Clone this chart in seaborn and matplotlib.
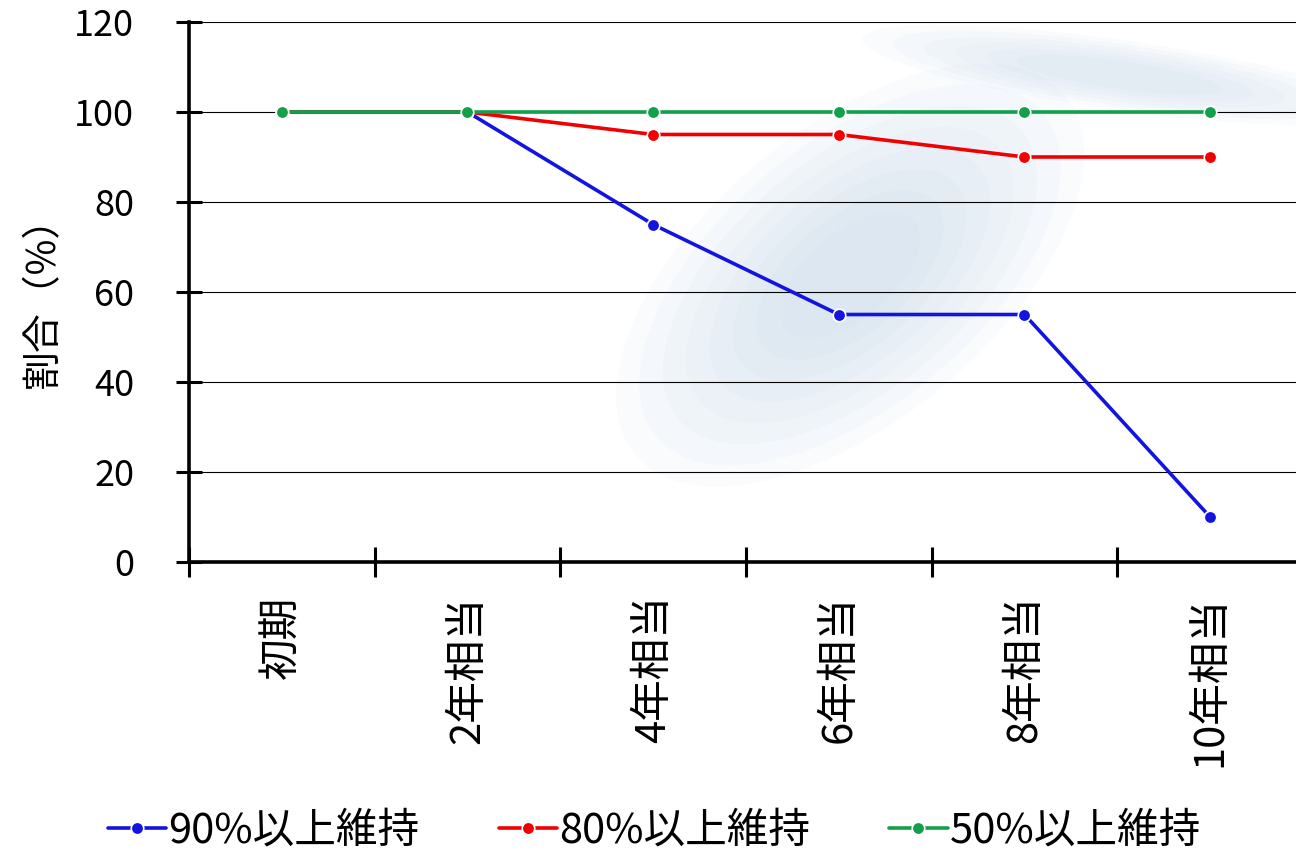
import pandas as pd
import matplotlib
matplotlib.use('Agg')
import matplotlib.pyplot as plt
from matplotlib.patches import Ellipse
import seaborn as sns

# データ
categories = ['初期', '2年相当', '4年相当', '6年相当', '8年相当', '10年相当']
series_names = ['90%以上維持', '80%以上維持', '50%以上維持']
keep_90 = [100, 100, 75, 55, 55, 10]
keep_80 = [100, 100, 95, 95, 90, 90]
keep_50 = [100, 100, 100, 100, 100, 100]
colors = ['#1414E0', '#F00000', '#12A04A']
y_ticks = [0, 20, 40, 60, 80, 100, 120]

sns.set_theme(style='white')
plt.rcParams['font.family'] = ['Noto Sans CJK JP', 'DejaVu Sans']
plt.rcParams['text.color'] = 'black'
plt.rcParams['xtick.color'] = 'black'
plt.rcParams['ytick.color'] = 'black'
plt.rcParams['axes.labelcolor'] = 'black'

df = pd.DataFrame({
    'cat': categories * 3,
    'val': keep_90 + keep_80 + keep_50,
    'series': [s for s in series_names for _ in categories],
})

fig = plt.figure(figsize=(12.96, 8.59), dpi=100)
ax = fig.add_axes([0.1458, 0.3457, 0.8596, 0.6287])
ax.set_facecolor('none')

# 背景の透かし（装飾）
deco = fig.add_axes([0, 0, 1, 1], zorder=-1)
deco.set_xlim(0, 1296)
deco.set_ylim(859, 0)
deco.axis('off')
for k in range(8):
    s = 1 - k * 0.1
    deco.add_patch(Ellipse((850, 275), 560 * s, 290 * s, angle=-40, facecolor='#b8d0e6',
                           edgecolor='none', alpha=0.07))
for k in range(6):
    s = 1 - k * 0.12
    deco.add_patch(Ellipse((1120, 75), 520 * s, 70 * s, angle=8, facecolor='#b8d0e6',
                           edgecolor='none', alpha=0.07))

sns.lineplot(data=df, x='cat', y='val', hue='series', palette=colors,
             marker='o', markersize=9, linewidth=2.6, markeredgewidth=1.2,
             sort=False, ax=ax, legend=True, zorder=3)

ax.set_ylim(0, 120)
ax.set_xlim(-0.5, 5.5)
ax.set_yticks(y_ticks)
ax.set_yticklabels([str(v) for v in y_ticks], fontsize=26)
ax.grid(axis='y', color='black', linewidth=0.8)
ax.grid(axis='x', visible=False)

# 目盛り：区切り位置にマーク、ラベルは中央
ax.set_xticks([i - 0.5 for i in range(len(categories) + 1)])
ax.set_xticklabels([])
ax.set_xticks(range(len(categories)), minor=True)
ax.set_xticklabels(categories, minor=True, rotation=90, fontsize=30)
ax.tick_params(axis='x', which='major', bottom=True, direction='inout', length=21, width=2.2)
ax.tick_params(axis='x', which='minor', bottom=True, length=0, pad=24)
ax.tick_params(axis='y', left=True, direction='inout', length=19, width=2.2, pad=30)

for side in ['top', 'right']:
    ax.spines[side].set_visible(False)
for side in ['left', 'bottom']:
    ax.spines[side].set_color('black')
    ax.spines[side].set_linewidth(2.6)

ax.set_xlabel('')
ax.set_ylabel('割合（%）', fontsize=28, labelpad=8)

handles, labels = ax.get_legend_handles_labels()
ax.legend_.remove()
fig.legend(handles, labels, loc='lower center', bbox_to_anchor=(0.505, -0.035), ncol=3,
           frameon=False, fontsize=30, handlelength=1.4, handletextpad=0.05,
           columnspacing=1.9)

plt.savefig('out.png', dpi=100)
plt.close()
